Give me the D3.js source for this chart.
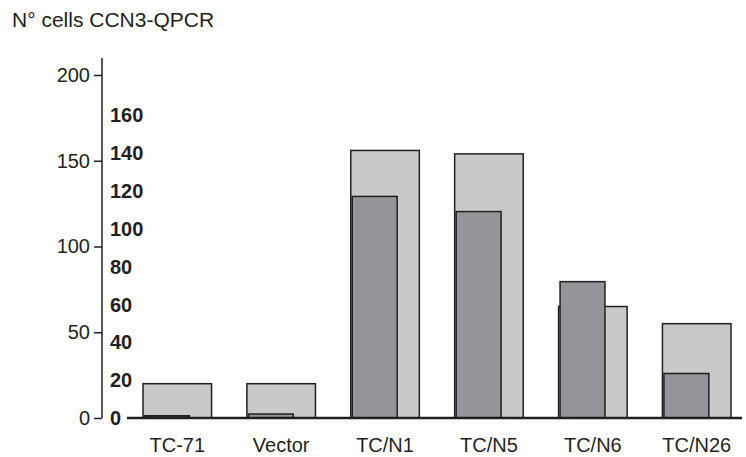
<!DOCTYPE html>
<html>
<head>
<meta charset="utf-8">
<script src="https://cdn.jsdelivr.net/npm/d3@7"></script>
<style>
  body { margin: 0; background: #fff; }
  text { font-family: "Liberation Sans", Arial, sans-serif; fill: #231f20; }
</style>
</head>
<body>
<div id="chart"></div>
<script>
const width = 746;
const height = 457;

// data
const categories = ["TC-71", "Vector", "TC/N1", "TC/N5", "TC/N6", "TC/N26"];
const cellCounts = [20, 20, 156, 154, 65, 55];      // light bars, outer axis (0-200)
const qpcrValues = [1.2, 2.1, 117, 109, 72, 23.5];   // dark bars, inner axis (0-160)
const outerTicks = [0, 50, 100, 150, 200];
const innerTicks = [0, 20, 40, 60, 80, 100, 120, 140, 160];

const baseY = 418;

const svg = d3.select("#chart")
  .append("svg")
  .attr("width", width)
  .attr("height", height);

// scales
const x = d3.scaleBand()
  .domain(categories)
  .range([143, 731])
  .paddingInner(0.34)
  .paddingOuter(0);

const yOuter = d3.scaleLinear().domain([0, 200]).range([baseY, 75]);
const yInner = d3.scaleLinear().domain([0, 160]).range([baseY, 115]);

// title
svg.append("text")
  .attr("x", 12)
  .attr("y", 27)
  .style("font-size", "21px")
  .text("N\u00b0 cells CCN3-QPCR");

// outer left axis
const outerAxis = svg.append("g")
  .attr("transform", "translate(102,0)")
  .call(d3.axisLeft(yOuter).tickValues(outerTicks).tickSize(8).tickPadding(4));
outerAxis.select(".domain").remove();
outerAxis.append("line")
  .attr("y1", 58).attr("y2", baseY)
  .attr("stroke", "#231f20").attr("stroke-width", 1.5);
outerAxis.selectAll(".tick line").attr("stroke", "#231f20").attr("stroke-width", 1.5);
outerAxis.selectAll(".tick text")
  .style("font-size", "20px")
  .style("font-family", "Liberation Sans, Arial, sans-serif")
  .attr("fill", "#231f20");

// inner bold labels
svg.append("g")
  .selectAll("text")
  .data(innerTicks)
  .join("text")
  .attr("x", 110)
  .attr("y", d => yInner(d))
  .attr("dy", "0.36em")
  .style("font-size", "20px")
  .style("font-weight", "bold")
  .text(d => d);

// light bars
const groups = svg.append("g")
  .selectAll("g")
  .data(categories)
  .join("g");

groups.append("rect")
  .attr("x", d => x(d))
  .attr("y", (d, i) => yOuter(cellCounts[i]))
  .attr("width", x.bandwidth())
  .attr("height", (d, i) => baseY - yOuter(cellCounts[i]))
  .attr("fill", "#c8c9cb")
  .attr("stroke", "#231f20")
  .attr("stroke-width", 1.5);

// dark bars
groups.append("rect")
  .attr("x", d => x(d) + 1.5)
  .attr("y", (d, i) => yInner(qpcrValues[i]))
  .attr("width", x.bandwidth() * 0.655)
  .attr("height", (d, i) => baseY - yInner(qpcrValues[i]))
  .attr("fill", (d, i) => i === 0 ? "#3a3a3c" : "#939598")
  .attr("stroke", "#231f20")
  .attr("stroke-width", 1.5);

// baseline
svg.append("line")
  .attr("x1", 127).attr("x2", 742)
  .attr("y1", baseY).attr("y2", baseY)
  .attr("stroke", "#231f20")
  .attr("stroke-width", 2.5);

// category labels
svg.append("g")
  .selectAll("text")
  .data(categories)
  .join("text")
  .attr("x", d => x(d) + x.bandwidth() / 2)
  .attr("y", 452)
  .attr("text-anchor", "middle")
  .style("font-size", "20px")
  .text(d => d);
</script>
</body>
</html>
